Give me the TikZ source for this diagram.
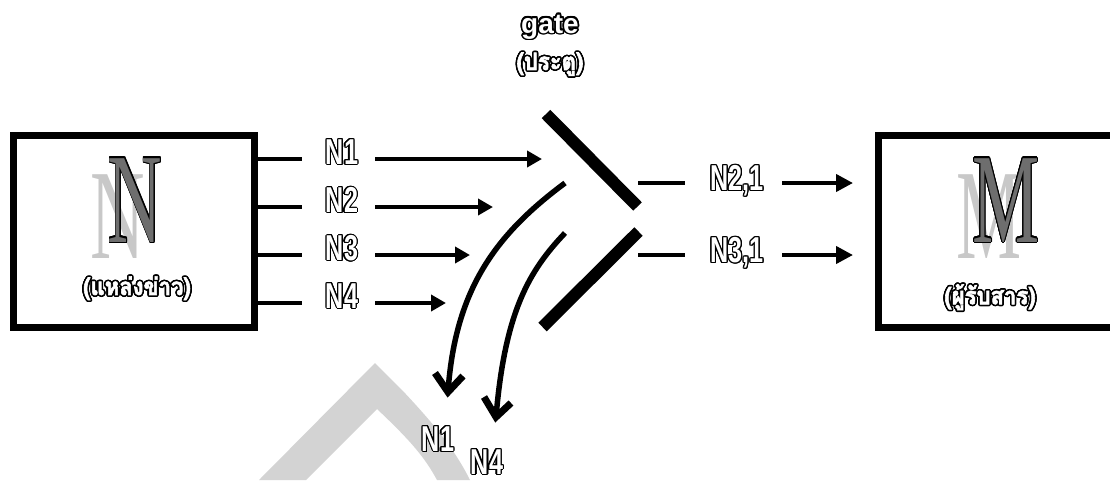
\documentclass[tikz,border=0pt]{standalone}
\usepackage{fontspec}
\usepackage{contour}
\usetikzlibrary{arrows.meta}
\setmainfont{Liberation Sans}
\newfontfamily\lblfont[FakeStretch=0.7]{Liberation Sans}
\newfontfamily\thaifont[Script=Thai,FakeBold=2.5,FakeStretch=0.92]{Loma}
\newfontfamily\bigserif{Liberation Serif}
\contourlength{1.1pt}
\definecolor{wm}{RGB}{211,211,211}
\definecolor{shadowgray}{RGB}{200,200,200}
\definecolor{metal}{RGB}{110,110,110}
\newcommand{\olt}[1]{\contour{black}{\textcolor{white}{#1}}}
\newcommand{\oltthick}[1]{{\contourlength{1.6pt}\contour{black}{\textcolor{white}{#1}}}}
\begin{document}
\begin{tikzpicture}[x=1pt,y=-1pt,
  box/.style={draw,line width=7pt,inner sep=0pt,minimum width=241pt,minimum height=192pt},
  stub/.style={line width=4pt},
  harrow/.style={line width=4pt,-{Triangle[length=15pt,width=16pt]}},
  bar/.style={line width=12pt},
  curvearrow/.style={line width=5.5pt},
  barb/.style={line width=7pt,line cap=butt,line join=miter},
  lbl/.style={font=\lblfont\bfseries\fontsize{36}{36}\selectfont,inner sep=0pt,text depth=0pt},
  thai/.style={font=\thaifont\bfseries\fontsize{24}{24}\selectfont,inner sep=0pt},
  bigletter/.style={font=\bigserif\fontsize{128}{128}\selectfont,inner sep=0pt,anchor=base,xscale=0.59},
]
\useasboundingbox (0,0) rectangle (1110,480);

% watermark
\fill[wm] (259,480) -- (375,363) -- (402,390) .. controls (435,425) and (455,450) .. (470,480)
  -- (437,480) .. controls (425,458) and (412,442) .. (377,409) -- (306,480) -- cycle;

% boxes
\node[box] (src) at (134,231.5) {};
\node[box,minimum width=250pt] (dst) at (1003.5,231.5) {};

% big letters
\node[bigletter,text=shadowgray] (nshadow) at (118,258) {N};
\node[bigletter] (nletter) at (135,242) {\contourlength{1.2pt}\contour{black}{\textcolor{metal}{N}}};
\node[bigletter,text=shadowgray,xscale=0.97] (mshadow) at (989.5,258) {M};
\node[bigletter] (mletter) at (1006,242) {\contourlength{1.2pt}\contour{black}{\textcolor{metal}{M}}};

% Thai captions
\node[thai] (srccap) at (137,289) {\oltthick{(แหล่งข่าว)}};
\node[thai] (dstcap) at (990,298) {\oltthick{(ผู้รับสาร)}};

% gate caption
\node[font=\bfseries\fontsize{28}{28}\selectfont,inner sep=0pt,anchor=base] (gate) at (550,33) {\oltthick{gate}};
\node[thai] (gatecap) at (550,65) {\oltthick{(ประตู)}};

% input labels
\node[lbl] (n1) at (342,152) {\olt{N1}};
\node[lbl] (n2) at (342,200) {\olt{N2}};
\node[lbl] (n3) at (342,248) {\olt{N3}};
\node[lbl] (n4) at (342,296) {\olt{N4}};

% stub coordinates
\coordinate (s1) at (302,159);
\coordinate (s2) at (302,207);
\coordinate (s3) at (302,255);
\coordinate (s4) at (302,303);
\draw[stub] (src.east |- s1) -- (s1);
\draw[stub] (src.east |- s2) -- (s2);
\draw[stub] (src.east |- s3) -- (s3);
\draw[stub] (src.east |- s4) -- (s4);

% input arrows
\coordinate (a1s) at (375,159); \coordinate (a1e) at (542,159);
\coordinate (a2s) at (375,207); \coordinate (a2e) at (493,207);
\coordinate (a3s) at (375,255); \coordinate (a3e) at (470,255);
\coordinate (a4s) at (375,303); \coordinate (a4e) at (446,303);
\draw[harrow] (a1s) -- (a1e);
\draw[harrow] (a2s) -- (a2e);
\draw[harrow] (a3s) -- (a3e);
\draw[harrow] (a4s) -- (a4e);

% gate bars
\coordinate (g1a) at (546,114); \coordinate (g1b) at (637.5,206.5);
\coordinate (g2a) at (638.5,231.5); \coordinate (g2b) at (542.5,327);
\draw[bar] (g1a) -- (g1b);
\draw[bar] (g2a) -- (g2b);

% output side
\coordinate (r1a) at (638,183); \coordinate (r1b) at (685,183);
\coordinate (r2a) at (638,255); \coordinate (r2b) at (685,255);
\draw[stub] (r1a) -- (r1b);
\draw[stub] (r2a) -- (r2b);
\node[lbl] (n21) at (737,178) {\olt{N2,1}};
\node[lbl] (n31) at (737,250) {\olt{N3,1}};
\coordinate (o1s) at (782,183); \coordinate (o1e) at (853,183);
\coordinate (o2s) at (782,255); \coordinate (o2e) at (853,255);
\draw[harrow,-{Triangle[length=17pt,width=17pt]}] (o1s) -- (o1e);
\draw[harrow,-{Triangle[length=17pt,width=17pt]}] (o2s) -- (o2e);

% rejected messages (curves with heavy barbed heads)
\coordinate (c1s) at (565,183); \coordinate (c1e) at (448,392);
\coordinate (c2s) at (565,233); \coordinate (c2e) at (496,417);
\draw[curvearrow] (c1s) .. controls (495,235) and (455,290) .. (c1e);
\draw[curvearrow] (c2s) .. controls (530,270) and (505,310) .. (c2e);
\draw[barb] ([shift={(-13,-19)}]c1e) -- (c1e) -- ([shift={(15,-16)}]c1e);
\draw[barb] ([shift={(-12,-20)}]c2e) -- (c2e) -- ([shift={(15,-14)}]c2e);
\node[lbl] (b1) at (438,439) {\olt{N1}};
\node[lbl] (b4) at (487,462) {\olt{N4}};
\end{tikzpicture}
\end{document}
